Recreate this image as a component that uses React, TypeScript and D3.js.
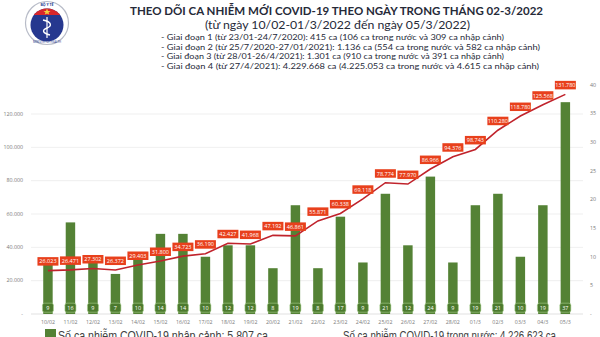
import React from "react";
import * as d3 from "d3";

const dates = ["10/02","11/02","12/02","13/02","14/02","15/02","16/02","17/02","18/02","19/02","20/02","21/02","22/02","23/02","24/02","25/02","26/02","27/02","28/02","01/3","02/3","03/3","04/3","05/3"];
const imported = [9,16,9,7,10,14,14,10,12,12,8,19,8,17,9,21,12,24,9,19,21,10,19,37];
const domestic = [26023,26471,27302,26372,29403,31800,34723,36190,42427,41968,47192,46861,55871,60338,69118,78774,77970,86966,94376,98743,110280,118780,125568,131780];
const leftTicks = [0,20000,40000,60000,80000,100000,120000];
const rightTicks = [0,5,10,15,20,25,30,35,40];

const title = "THEO DÕI CA NHIỄM MỚI COVID-19 THEO NGÀY TRONG THÁNG 02-3/2022";
const subtitle = "(từ ngày 10/02-01/3/2022 đến ngày 05/3/2022)";
const phases = [
  "- Giai đoạn 1 (từ 23/01-24/7/2020): 415 ca (106 ca trong nước và 309 ca nhập cảnh)",
  "- Giai đoạn 2 (từ 25/7/2020-27/01/2021): 1.136 ca (554 ca trong nước và 582 ca nhập cảnh)",
  "- Giai đoạn 3 (từ 28/01-26/4/2021): 1.301 ca (910 ca trong nước và 391 ca nhập cảnh)",
  "- Giai đoạn 4 (từ 27/4/2021): 4.229.668 ca (4.225.053 ca trong nước và 4.615 ca nhập cảnh)",
];
const phaseWidths = [343, 379, 343, 378];
const legend1 = "Số ca nhiễm COVID-19 nhập cảnh: 5.807 ca";
const legend2 = "Số ca nhiễm COVID-19 trong nước: 4.226.623 ca";

const fmt = (v: number) => (v === 0 ? "-" : d3.format(",")(v).replace(/,/g, "."));

export default function App() {
  const W = 600, H = 337;
  const step = 23.04;
  const xb = d3.scaleBand<string>().domain(dates).range([41.7 - step / 2, 41.7 + step * 23.5]).padding(0.58);
  const cx = (d: string) => (xb(d) as number) + xb.bandwidth() / 2;
  const yL = d3.scaleLinear().domain([0, 120000]).range([314, 114]);
  const yR = d3.scaleLinear().domain([0, 40]).range([314, 85]);
  const line = d3.line<number>().x((_, i) => cx(dates[i])).y((v) => yL(v));
  const font = "Lato, 'Open Sans', sans-serif";
  const axisFont = "'Open Sans', sans-serif";

  return (
    <svg width={W} height={H} style={{ position: "absolute", left: 0, top: 0, background: "#fff" }}>
      <rect x={0} y={0} width={W} height={H} fill="#fff" />
      {/* logo */}
      <g>
        <circle cx={47} cy={23} r={21.5} fill="#fff" stroke="#b8bcc8" strokeWidth={1.2} />
        <defs>
          <clipPath id="inner"><circle cx={47} cy={25} r={16.5} /></clipPath>
        </defs>
        <circle cx={47} cy={25} r={16.5} fill="#26388f" />
        <rect x={30} y={8} width={34} height={7} fill="#d9262b" clipPath="url(#inner)" />
        <polygon points="47,10 48,12.5 50.5,12.5 48.5,14 49.2,16 47,15 44.8,16 45.5,14 43.5,12.5 46,12.5" fill="#f4d03f" transform="translate(0,-1.5)" />
        <line x1={47} y1={17} x2={47} y2={38} stroke="#fff" strokeWidth={1.2} />
        <path d="M43,20 C52,22 52,26 47,28 C42,30 42,33 50,35" fill="none" stroke="#fff" strokeWidth={1.4} />
        <text x={47} y={6.3} textAnchor="middle" fontSize={3.5} fill="#26388f" fontFamily={axisFont} fontWeight="bold">BỘ Y TẾ</text>
        <text x={47} y={43.2} textAnchor="middle" fontSize={2.8} fill="#26388f" fontFamily={axisFont}>MINISTRY OF HEALTH</text>
      </g>
      {/* titles */}
      <text x={336.5} y={15} textAnchor="middle" fontSize={12} fontWeight="bold" fill="#262a38" fontFamily={font} textLength={413} lengthAdjust="spacingAndGlyphs">{title}</text>
      <text x={337.5} y={28.5} textAnchor="middle" fontSize={11} fill="#262a38" fontFamily={font} textLength={265} lengthAdjust="spacingAndGlyphs">{subtitle}</text>
      {phases.map((p, i) => (
        <text key={i} x={161} y={40.3 + i * 9.45} fontSize={8.3} fill="#262a38" fontFamily={font} textLength={phaseWidths[i]} lengthAdjust="spacingAndGlyphs">{p}</text>
      ))}
      {/* gridlines */}
      {leftTicks.map((t) => (
        <line key={t} x1={31} x2={583} y1={yL(t)} y2={yL(t)} stroke={t === 0 ? "#d9d9d9" : "#ebebeb"} strokeWidth={0.8} />
      ))}
      {leftTicks.map((t) => (
        <text key={"l" + t} x={23} y={yL(t) + 1.8} textAnchor="end" fontSize={5.3} fill="#7a7a7a" fontFamily={axisFont}>{fmt(t)}</text>
      ))}
      {rightTicks.map((t) => (
        <text key={"r" + t} x={590} y={yR(t) + 1.8} fontSize={5.3} fill="#7a7a7a" fontFamily={axisFont}>{fmt(t)}</text>
      ))}
      {/* bars */}
      {dates.map((d, i) => (
        <rect key={d} x={xb(d)} y={yR(imported[i])} width={xb.bandwidth()} height={314 - yR(imported[i])} fill="#548235" />
      ))}
      {dates.map((d, i) => (
        <g key={"bl" + d}>
          <rect x={cx(d) - 5.5} y={303.2} width={11} height={9} rx={2} fill="#4c7a2e" stroke="#a9d18e" strokeWidth={0.6} />
          <text x={cx(d)} y={309.6} textAnchor="middle" fontSize={5.5} fill="#fff" fontFamily={axisFont}>{imported[i]}</text>
        </g>
      ))}
      {/* x labels */}
      {dates.map((d) => (
        <text key={"x" + d} x={cx(d)} y={324} textAnchor="middle" fontSize={5.3} fill="#7a7a7a" fontFamily={axisFont}>{d}</text>
      ))}
      {/* line */}
      <path d={line(domestic) as string} fill="none" stroke="#c0232c" strokeWidth={1.6} />
      {dates.map((d, i) => (
        <g key={"ll" + d}>
          <rect x={cx(d) - 10.5} y={yL(domestic[i]) - 13.5} width={21} height={8.5} fill="#e8401c" />
          <text x={cx(d)} y={yL(domestic[i]) - 7.2} textAnchor="middle" fontSize={5.5} fill="#fff" fontFamily={axisFont}>{fmt(domestic[i])}</text>
        </g>
      ))}
      {/* legend */}
      <rect x={45} y={329} width={11} height={11} fill="#548235" />
      <text x={58} y={339.5} fontSize={13} fill="#404040" fontFamily="'Liberation Sans', Arial, sans-serif" textLength={210} lengthAdjust="spacingAndGlyphs">{legend1}</text>
      <text x={343} y={339.5} fontSize={13} fill="#404040" fontFamily="'Liberation Sans', Arial, sans-serif" textLength={213} lengthAdjust="spacingAndGlyphs">{legend2}</text>
    </svg>
  );
}
